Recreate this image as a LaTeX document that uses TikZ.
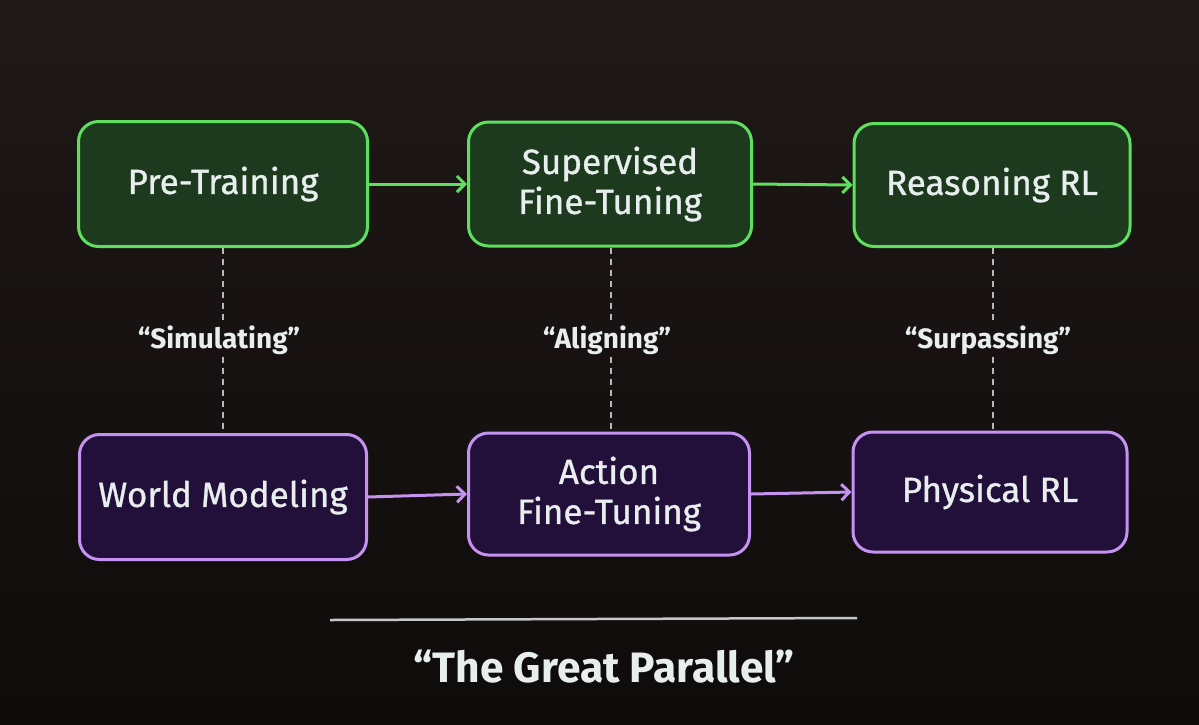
\documentclass[tikz,border=0pt]{standalone}
\usepackage{fontspec}
\setmainfont{Fira Sans}
\newfontfamily\boxfont{Fira Sans}[FakeBold=0.9]
\usetikzlibrary{arrows.meta}
\definecolor{bgtop}{HTML}{1F1917}
\definecolor{bgbot}{HTML}{0E0B0B}
\definecolor{gline}{HTML}{5EE05E}
\definecolor{gfill}{HTML}{1D3A1F}
\definecolor{pline}{HTML}{C592F2}
\definecolor{pfill}{HTML}{22103A}
\definecolor{txt}{HTML}{E8EEEE}
\definecolor{dash}{HTML}{B8B8B8}
\tikzset{
  boxbase/.style={rounded corners=20pt, line width=3pt, align=center, text=txt,
    font=\boxfont\fontsize{35}{40}\selectfont, inner sep=0pt},
  gbox/.style={boxbase, draw=gline, fill=gfill},
  pbox/.style={boxbase, draw=pline, fill=pfill},
  garrow/.style={draw=gline, line width=3pt, -{Straight Barb[length=8pt,width=16pt,line width=3pt]}},
  parrow/.style={draw=pline, line width=3pt, -{Straight Barb[length=8pt,width=16pt,line width=3pt]}},
  dline/.style={draw=dash, line width=2pt, dash pattern=on 6pt off 5pt},
  lbl/.style={text=txt, font=\fontsize{28}{32}\selectfont\bfseries, inner sep=2pt},
}
\begin{document}
\begin{tikzpicture}[x=1pt,y=-1pt]
\shade[top color=bgtop, bottom color=bgbot] (0,0) rectangle (1199,724);
\useasboundingbox (0,0) rectangle (1199,724);
% top row
\node[gbox, minimum width=289pt, minimum height=125pt] (pt) at (223,184) {Pre-Training};
\node[gbox, minimum width=283pt, minimum height=124pt] (sft) at (610,184) {Supervised\\Fine-Tuning};
\node[gbox, minimum width=276pt, minimum height=123pt] (rrl) at (992,185) {Reasoning RL};
% bottom row
\node[pbox, minimum width=287pt, minimum height=125pt] (wm) at (223,497) {World Modeling};
\node[pbox, minimum width=281pt, minimum height=122pt] (aft) at (609,494) {Action\\Fine-Tuning};
\node[pbox, minimum width=274pt, minimum height=120pt] (prl) at (990,492) {Physical RL};
% labels
\node[lbl] (l1) at (219,340) {“Simulating”};
\node[lbl] (l2) at (607,340) {“Aligning”};
\node[lbl] (l3) at (988,340) {“Surpassing”};
% arrows
\draw[garrow] (pt.east) -- (sft.west);
\draw[garrow] (sft.east) -- (rrl.west);
\draw[parrow] (wm.east) -- (aft.west);
\draw[parrow] (aft.east) -- (prl.west);
% dashed links
\draw[dline] ([xshift=4pt]l1.north |- pt.south) -- ([xshift=4pt]l1.north);
\draw[dline] ([xshift=4pt]l1.south) -- ([xshift=4pt]l1.south |- wm.north);
\draw[dline] ([xshift=4pt]l2.north |- sft.south) -- ([xshift=4pt]l2.north);
\draw[dline] ([xshift=4pt]l2.south) -- ([xshift=4pt]l2.south |- aft.north);
\draw[dline] ([xshift=5pt]l3.north |- rrl.south) -- ([xshift=5pt]l3.north);
\draw[dline] ([xshift=5pt]l3.south) -- ([xshift=5pt]l3.south |- prl.north);
% separator and title
\coordinate (s1) at (330,620);
\coordinate (s2) at (857,618);
\draw[draw=dash!80, line width=2.5pt] (s1) -- (s2);
\node[text=txt, font=\fontsize{42.5}{48}\selectfont\bfseries] (title) at (604,667) {“The Great Parallel”};
\end{tikzpicture}
\end{document}
